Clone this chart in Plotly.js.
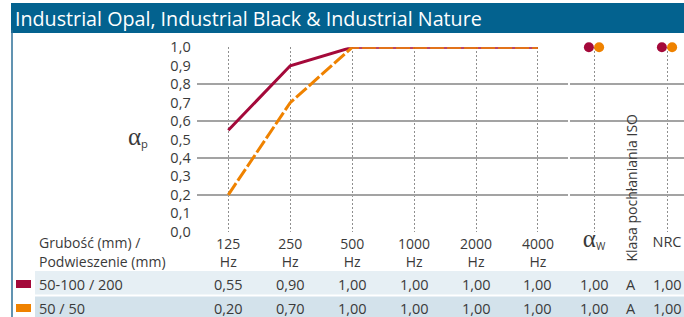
<!DOCTYPE html>
<html><head><meta charset="utf-8">
<script src="https://cdn.plot.ly/plotly-3.0.1.min.js"></script>
<style>html,body{margin:0;padding:0;background:#fff;}#chart{width:684px;height:317px;}</style>
</head><body><div id="chart"></div>
<script>
// ---- data ----
const freqs = ['125', '250', '500', '1000', '2000', '4000'];
const freqLabels = ['125<br>Hz', '250<br>Hz', '500<br>Hz', '1000<br>Hz', '2000<br>Hz', '4000<br>Hz'];
const rowLabels = ['50-100 / 200', '50 / 50'];
const alphaP1 = [0.55, 0.90, 1.00, 1.00, 1.00, 1.00];
const alphaP2 = [0.20, 0.70, 1.00, 1.00, 1.00, 1.00];
const alphaW = [1.00, 1.00];
const isoClass = ['A', 'A'];
const nrc = [1.00, 1.00];
const seriesColors = ['#a4093a', '#ef8200'];

// ---- helpers ----
const W = 684, H = 317;
const px = v => v / W;
const py = v => 1 - v / H;
const fmt = v => v.toFixed(2).replace('.', ',');
const FONT = 'Open Sans, Noto Sans, sans-serif';
const TXT = '#3a3a3a';

const series = [alphaP1, alphaP2];
const xIdx = freqs.map((f, i) => i);
const traces = [
  {x: xIdx, y: alphaP1, type: 'scatter', mode: 'lines', xaxis: 'x', yaxis: 'y',
   line: {color: seriesColors[0], width: 3}, cliponaxis: false, hoverinfo: 'skip'},
  {x: xIdx, y: alphaP2, type: 'scatter', mode: 'lines', xaxis: 'x', yaxis: 'y',
   line: {color: seriesColors[1], width: 3, dash: '14px,3px'}, cliponaxis: false, hoverinfo: 'skip'}
];
// summary dots (alpha_w at column 0, NRC at column 2 of x2)
const dotOffset = [-0.14, 0.14];
[0, 1].forEach(i => {
  traces.push({x: [0 + dotOffset[i], 2 + dotOffset[i]], y: [alphaW[i], nrc[i]], type: 'scatter', mode: 'markers',
    xaxis: 'x2', yaxis: 'y', marker: {color: seriesColors[i], size: 10}, cliponaxis: false, hoverinfo: 'skip'});
});
// invisible trace to activate y2 labels
traces.push({x: [0], y: [0], xaxis: 'x', yaxis: 'y2', mode: 'markers', marker: {opacity: 0}, hoverinfo: 'skip', showlegend: false});

const shapes = [
  {type: 'rect', xref: 'paper', yref: 'paper', x0: px(11), x1: 1, y0: py(33), y1: py(3), fillcolor: '#03628f', line: {width: 0}, layer: 'below'},
  {type: 'line', xref: 'paper', yref: 'paper', x0: px(12), x1: px(12), y0: 0, y1: py(30), line: {color: '#2d6f97', width: 1.5}},
  {type: 'rect', xref: 'paper', yref: 'paper', x0: px(35), x1: 1, y0: py(294.5), y1: py(271), fillcolor: '#e6eff4', line: {width: 0}, layer: 'below'},
  {type: 'rect', xref: 'paper', yref: 'paper', x0: px(35), x1: 1, y0: 0, y1: py(296.5), fillcolor: '#d3e2eb', line: {width: 0}, layer: 'below'}
];
const rowY = [284, 308];
rowY.forEach((yy, i) => {
  shapes.push({type: 'rect', xref: 'paper', yref: 'paper', x0: px(16), x1: px(31), y0: py(yy + 4), y1: py(yy - 4),
    fillcolor: seriesColors[i], line: {width: 0}});
});

const annotations = [
  {text: 'Industrial Opal, Industrial Black &amp; Industrial Nature', xref: 'paper', yref: 'paper', x: px(13), y: py(18.5),
   xanchor: 'left', yanchor: 'middle', showarrow: false, font: {family: FONT, size: 19.7, color: '#ffffff'}},
  {text: '<span style="font-family:Liberation Serif;font-size:25px">α</span><sub>p</sub>', xref: 'paper', yref: 'paper',
   x: px(138), y: py(137), xanchor: 'center', yanchor: 'middle', showarrow: false, font: {family: FONT, size: 16, color: TXT}},
  {text: 'Grubość (mm) /', xref: 'paper', yref: 'paper', x: px(37), y: py(242), xanchor: 'left', yanchor: 'middle',
   showarrow: false, font: {family: FONT, size: 14, color: TXT}},
  {text: 'Podwieszenie (mm)', xref: 'paper', yref: 'paper', x: px(37), y: py(261), xanchor: 'left', yanchor: 'middle',
   showarrow: false, font: {family: FONT, size: 14, color: TXT}},
  {text: 'Klasa pochłaniania ISO', xref: 'x2', yref: 'paper', x: 1, y: py(188), textangle: -90, xanchor: 'center', yanchor: 'middle',
   showarrow: false, font: {family: FONT, size: 14, color: TXT}}
];
rowY.forEach((yy, i) => {
  annotations.push({text: rowLabels[i], xref: 'paper', yref: 'paper', x: px(37), y: py(yy), xanchor: 'left', yanchor: 'middle',
    showarrow: false, font: {family: FONT, size: 14.5, color: TXT}});
  freqs.forEach((f, j) => {
    annotations.push({text: fmt(series[i][j]), xref: 'x', yref: 'paper', x: j, y: py(yy), xanchor: 'center', yanchor: 'middle',
      showarrow: false, font: {family: FONT, size: 14.5, color: TXT}});
  });
  [[0, fmt(alphaW[i])], [1, isoClass[i]], [2, fmt(nrc[i])]].forEach(([c, t]) => {
    annotations.push({text: t, xref: 'x2', yref: 'paper', x: c, y: py(yy), xanchor: 'center', yanchor: 'middle',
      showarrow: false, font: {family: FONT, size: 14.5, color: TXT}});
  });
});

const yDom = [py(231.7), py(47.3)];
const layout = {
  width: W, height: H, margin: {l: 0, r: 0, t: 0, b: 0},
  paper_bgcolor: '#ffffff', plot_bgcolor: 'rgba(0,0,0,0)',
  showlegend: false, separators: ', ',
  font: {family: FONT, size: 13, color: TXT},
  xaxis: {type: 'linear', domain: [px(196.7), px(568.3)], range: [-0.51, 5.49],
    tickvals: xIdx, ticktext: freqLabels, showgrid: true, gridcolor: '#8f8f8f', griddash: '1.5px,2.5px', gridwidth: 1,
    zeroline: false, showline: false, ticks: '', ticklabelstandoff: 2,
    tickfont: {family: FONT, size: 14, color: TXT}, anchor: 'y', fixedrange: true},
  xaxis2: {domain: [px(570), 1], range: [-0.6575, 2.4658], tickvals: [0, 2],
    ticktext: ['<span style="font-family:Liberation Serif;font-size:25px">α</span><sub>W</sub>', 'NRC'],
    showgrid: true, gridcolor: '#8f8f8f', griddash: '1.5px,2.5px', gridwidth: 1, zeroline: false, showline: false, ticks: '',
    tickfont: {family: FONT, size: 14.5, color: TXT}, anchor: 'y', fixedrange: true},
  yaxis: {domain: yDom, range: [0, 1], dtick: 0.2, tick0: 0, showgrid: true, gridcolor: '#a3a3a3', gridwidth: 1.5,
    zeroline: false, showline: false, showticklabels: false, ticks: '', anchor: 'x', fixedrange: true},
  yaxis2: {domain: yDom, range: [0, 1], dtick: 0.1, tick0: 0, tickformat: '.1f', overlaying: 'y', side: 'left', anchor: 'x',
    showgrid: false, zeroline: false, showline: false, ticks: '', ticklabelstandoff: 5,
    tickfont: {family: FONT, size: 14.5, color: TXT}, fixedrange: true},
  shapes: shapes,
  annotations: annotations
};
Plotly.newPlot('chart', traces, layout, {displayModeBar: false, staticPlot: true});
</script>
</body></html>
